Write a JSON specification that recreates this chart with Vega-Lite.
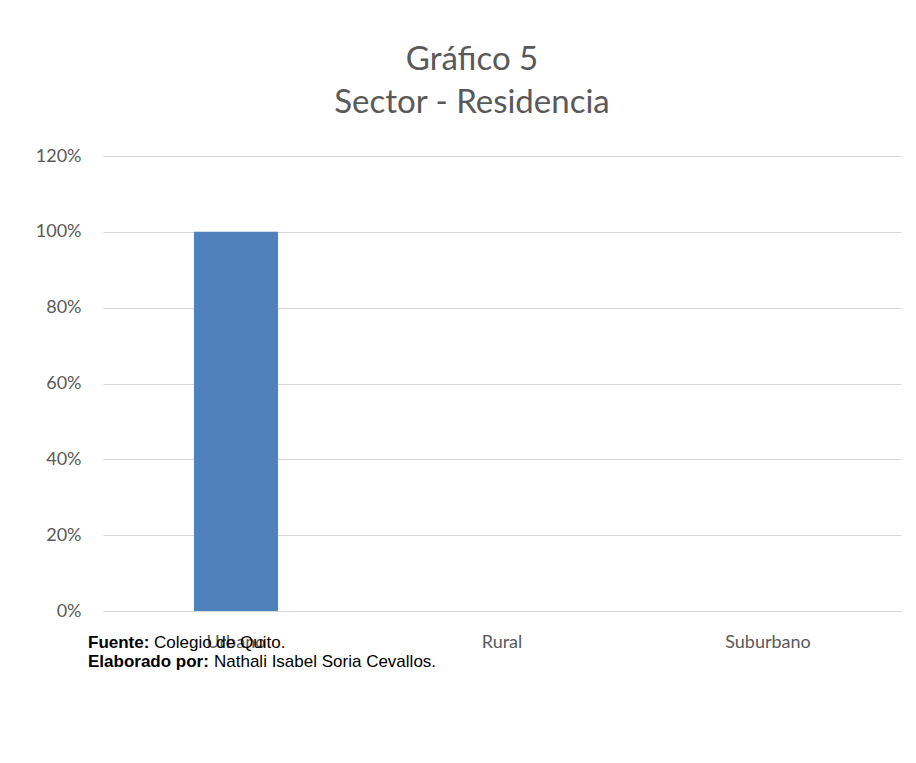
{
  "$schema": "https://vega.github.io/schema/vega-lite/v6.json",
  "width": 798,
  "height": 455,
  "autosize": "none",
  "padding": {"left": 103, "top": 156, "right": 15, "bottom": 152},
  "background": "white",
  "title": {
    "text": ["Gráfico 5", "Sector - Residencia"],
    "font": "Lato",
    "fontSize": 33,
    "fontWeight": "normal",
    "color": "#595959",
    "lineHeight": 43,
    "anchor": "middle",
    "dx": -30,
    "offset": 27
  },
  "config": {
    "view": {"stroke": null},
    "axis": {"labelFont": "Lato", "labelColor": "#595959", "labelFontSize": 18}
  },
  "data": {
    "values": [
      {"sector": "Urbano", "pct": 1.0},
      {"sector": "Rural", "pct": 0},
      {"sector": "Suburbano", "pct": 0}
    ]
  },
  "layer": [
    {
      "mark": {"type": "bar", "color": "#4f81bd"},
      "encoding": {
        "x": {
          "field": "sector",
          "type": "nominal",
          "sort": ["Urbano", "Rural", "Suburbano"],
          "scale": {"paddingInner": 0.684, "paddingOuter": 0.342},
          "axis": {
            "title": null,
            "labelAngle": 0,
            "ticks": false,
            "domainColor": "#d9d9d9",
            "domainWidth": 1,
            "labelPadding": 22
          }
        },
        "y": {
          "field": "pct",
          "type": "quantitative",
          "scale": {"domain": [0, 1.2]},
          "axis": {
            "title": null,
            "values": [0, 0.2, 0.4, 0.6, 0.8, 1.0, 1.2],
            "format": ".0%",
            "ticks": false,
            "domain": false,
            "gridColor": "#d9d9d9",
            "labelPadding": 22
          }
        }
      }
    },
    {
      "data": {"values": [{"t": "Fuente:"}]},
      "mark": {"type": "text", "align": "left", "baseline": "middle", "font": "Liberation Sans", "fontSize": 17, "fontWeight": "bold", "color": "#000000", "dx": -148, "dy": 32},
      "encoding": {"x": {"datum": "Urbano"}, "y": {"datum": 0}, "text": {"field": "t"}}
    },
    {
      "data": {"values": [{"t": "Colegio de Quito."}]},
      "mark": {"type": "text", "align": "left", "baseline": "middle", "font": "Liberation Sans", "fontSize": 17, "color": "#000000", "dx": -82, "dy": 32},
      "encoding": {"x": {"datum": "Urbano"}, "y": {"datum": 0}, "text": {"field": "t"}}
    },
    {
      "data": {"values": [{"t": "Elaborado por:"}]},
      "mark": {"type": "text", "align": "left", "baseline": "middle", "font": "Liberation Sans", "fontSize": 17, "fontWeight": "bold", "color": "#000000", "dx": -148, "dy": 51},
      "encoding": {"x": {"datum": "Urbano"}, "y": {"datum": 0}, "text": {"field": "t"}}
    },
    {
      "data": {"values": [{"t": "Nathali Isabel Soria Cevallos."}]},
      "mark": {"type": "text", "align": "left", "baseline": "middle", "font": "Liberation Sans", "fontSize": 17, "color": "#000000", "dx": -22, "dy": 51},
      "encoding": {"x": {"datum": "Urbano"}, "y": {"datum": 0}, "text": {"field": "t"}}
    }
  ]
}
